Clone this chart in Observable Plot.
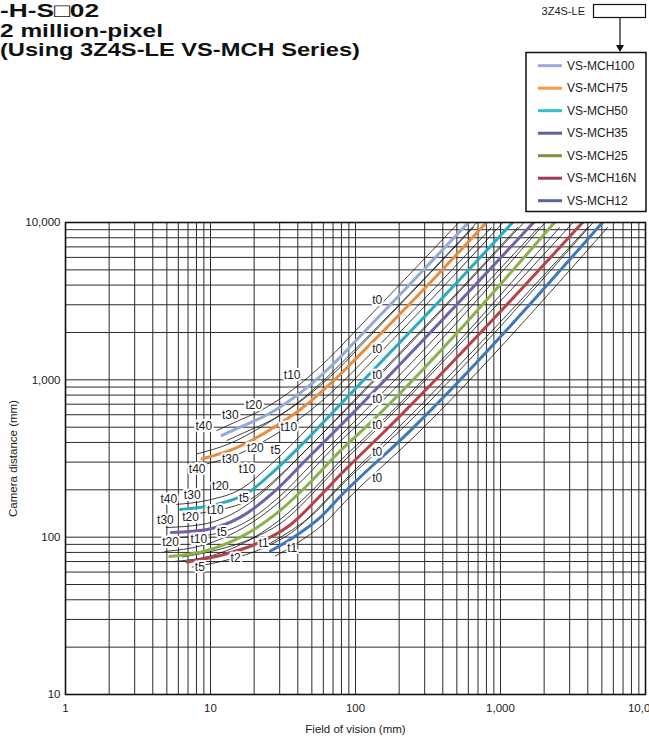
<!DOCTYPE html>
<html><head><meta charset="utf-8">
<script src="https://cdn.jsdelivr.net/npm/d3@7"></script>
<script src="https://cdn.jsdelivr.net/npm/@observablehq/plot@0.6"></script>
<style>
body{margin:0;background:#fff;font-family:"Liberation Sans",Arial,sans-serif;}
#wrap{position:relative;width:649px;height:742px;overflow:hidden;}
#wrap > svg{position:absolute;left:0;top:0;}
</style></head><body><div id="wrap"></div>
<script>
// ---- data ----
const lenses = ["VS-MCH100","VS-MCH75","VS-MCH50","VS-MCH35","VS-MCH25","VS-MCH16N","VS-MCH12"];
const lineColors = ["#93a9d8","#ec8a3e","#2aabbe","#7061a9","#8bb14b","#b6434a","#3f77b8"];
const legendColors = ["#9aaad8","#f39a45","#35bfc6","#5b5f9b","#8a8f3e","#9b3a5e","#5a62a0"];

const fov100 = [12.0, 16, 24.6, 41.8, 70.9, 108, 251, 601];
const dist100 = [443, 500, 600, 830, 1270, 1900, 4280, 10000];
const fov75 = [8.76, 14.5, 24.6, 41.8, 70.9, 102.7, 338, 800];
const dist75 = [315, 364, 470, 650, 990, 1390, 4280, 10000];
const fov50 = [6.21, 10.5, 17.9, 27.3, 46.4, 78.8, 516, 1210];
const dist50 = [150, 160, 190, 262, 420, 700, 4280, 10000];
const fov35 = [5.36, 9.5, 16.1, 27.3, 46.4, 72.8, 1690];
const dist35 = [107, 112, 134, 193, 315, 476, 10000];
const fov25 = [5.24, 9.5, 16.1, 27.3, 46.4, 78.8, 111, 2357];
const dist25 = [75.4, 82.3, 100, 137, 213, 355, 476, 10000];
const fov16 = [6.91, 12.4, 21, 35.6, 57.4, 78.8, 161, 918, 3680];
const dist16 = [69.5, 77.6, 91.2, 120, 184, 250, 476, 2500, 10000];
const fov12 = [25.9, 37.5, 57.4, 78.8, 239, 5050];
const dist12 = [81.7, 100, 134, 182, 476, 10000];

const labelText = ["t0","t10","t20","t30","t40",
                   "t0","t10","t20","t30","t40",
                   "t0","t5","t10","t20","t30","t40",
                   "t0","t5","t10","t20","t30",
                   "t0","t5","t10","t20",
                   "t0","t1","t2","t5",
                   "t0","t1"];
const labelFov = [141,36.6,19.9,13.7,8.99,
                  141,34.7,20.4,13.7,8.09,
                  141,28.1,17.9,11.7,7.48,5.16,
                  141,17.0,10.8,7.28,4.89,
                  141,12.0,8.31,5.30,
                  141,23.3,14.9,8.44,
                  141,36.6];
const labelDist = [3193,1066,687,593,505,
                   1575,500,370,315,272,
                   1066,356,272,210,184,175,
                   758,177,148,134,129,
                   513,107.5,97.6,92.9,
                   345,91.6,73.9,64.4,
                   236,85.6];

const xTicks = [1, 10, 100, 1000, 10000];
const yTicks = [10, 100, 1000, 10000];
const xGrid = [1,2,3,4,5,6,7,8,9,10,20,30,40,50,60,70,80,90,100,200,300,400,500,600,700,800,900,
               1000,2000,3000,4000,5000,6000,7000,8000,9000,10000];
const yGrid = [10,20,30,40,50,60,70,80,90,100,200,300,400,500,600,700,800,900,
               1000,2000,3000,4000,5000,6000,7000,8000,9000,10000];

const titleLines = ["-H-S\u25A102", "2 million-pixel", "(Using 3Z4S-LE VS-MCH Series)"];
const selectorLabel = "3Z4S-LE";

// ---- tables ----
const fovs = [fov100, fov75, fov50, fov35, fov25, fov16, fov12];
const dists = [dist100, dist75, dist50, dist35, dist25, dist16, dist12];
const curveRows = lenses.flatMap((name, i) => fovs[i].map((f, j) => ({lens: name, fov: f, dist: dists[i][j]})));
const labelRows = labelText.map((t, i) => ({t, fov: labelFov[i], dist: labelDist[i]}));
const fmt = d3.format(",");

const plot = Plot.plot({
  width: 649, height: 742,
  marginTop: 222, marginRight: 4, marginBottom: 48, marginLeft: 65,
  style: {fontFamily: '"Liberation Sans", Arial, sans-serif', fontSize: "11px", color: "#222", background: "transparent"},
  x: {type: "log", domain: [1, 10000]},
  y: {type: "log", domain: [10, 10000]},
  color: {domain: lenses, range: lineColors},
  marks: [
    Plot.ruleX(xGrid, {stroke: "#2a2a2a", strokeWidth: 1}),
    Plot.ruleY(yGrid, {stroke: "#2a2a2a", strokeWidth: 1}),
    Plot.line(curveRows, {x: "fov", y: "dist", z: "lens", stroke: "#111", strokeWidth: 0.8, dx: -5, dy: -5, curve: "monotone-x", clip: true}),
    Plot.line(curveRows, {x: "fov", y: "dist", z: "lens", stroke: "#111", strokeWidth: 0.8, dx: 5, dy: 5, curve: "monotone-x", clip: true}),
    Plot.line(curveRows, {x: "fov", y: "dist", z: "lens", stroke: "lens", strokeWidth: 3, curve: "monotone-x", clip: true}),
    Plot.text(labelRows, {x: "fov", y: "dist", text: "t", fill: "#222", stroke: "white", strokeWidth: 4, fontSize: 12}),
    Plot.frame({stroke: "#111", strokeWidth: 1.6}),
    Plot.axisX(xTicks, {tickFormat: fmt, tickSize: 0, tickPadding: 9, fontSize: 11.5,
      label: "Field of vision (mm)", labelAnchor: "center", labelArrow: "none", labelOffset: 38}),
    Plot.axisY(yTicks, {tickFormat: fmt, tickSize: 0, tickPadding: 5, fontSize: 11.5,
      label: "Camera distance (mm)", labelAnchor: "center", labelArrow: "none", labelOffset: 57})
  ]
});
document.getElementById("wrap").appendChild(plot);

// ---- overlay: title, selector box, legend ----
const svg = d3.select("#wrap").append("svg").attr("width", 649).attr("height", 742)
  .style("font-family", '"Liberation Sans", Arial, sans-serif');
const titleY = [17, 37, 56];
const titleX = [0, 0, 0];
const titleW = [99, 163, 360];
titleLines.forEach((t, i) => {
  svg.append("text").attr("x", titleX[i]).attr("y", titleY[i])
    .attr("font-size", 19).attr("font-weight", "bold").attr("fill", "#111")
    .attr("textLength", titleW[i]).attr("lengthAdjust", "spacingAndGlyphs").text(t);
});
svg.append("text").attr("x", 585).attr("y", 15).attr("text-anchor", "end").attr("font-size", 11).attr("fill", "#222").text(selectorLabel);
svg.append("rect").attr("x", 593.5).attr("y", 4.5).attr("width", 52).attr("height", 13).attr("fill", "white").attr("stroke", "#111").attr("stroke-width", 1.2);
svg.append("line").attr("x1", 620).attr("x2", 620).attr("y1", 18).attr("y2", 46).attr("stroke", "#111").attr("stroke-width", 1.2);
svg.append("path").attr("d", "M616,45 L624,45 L620,52 Z").attr("fill", "#111");
svg.append("rect").attr("x", 526).attr("y", 52.5).attr("width", 120).attr("height", 159).attr("fill", "white").attr("stroke", "#111").attr("stroke-width", 1.5);
lenses.forEach((name, i) => {
  const y = 65.7 + i * 22.5;
  svg.append("line").attr("x1", 538).attr("x2", 562).attr("y1", y).attr("y2", y).attr("stroke", legendColors[i]).attr("stroke-width", 3);
  svg.append("text").attr("x", 567).attr("y", y + 4).attr("font-size", 12).attr("fill", "#222").text(name);
});
</script></body></html>
